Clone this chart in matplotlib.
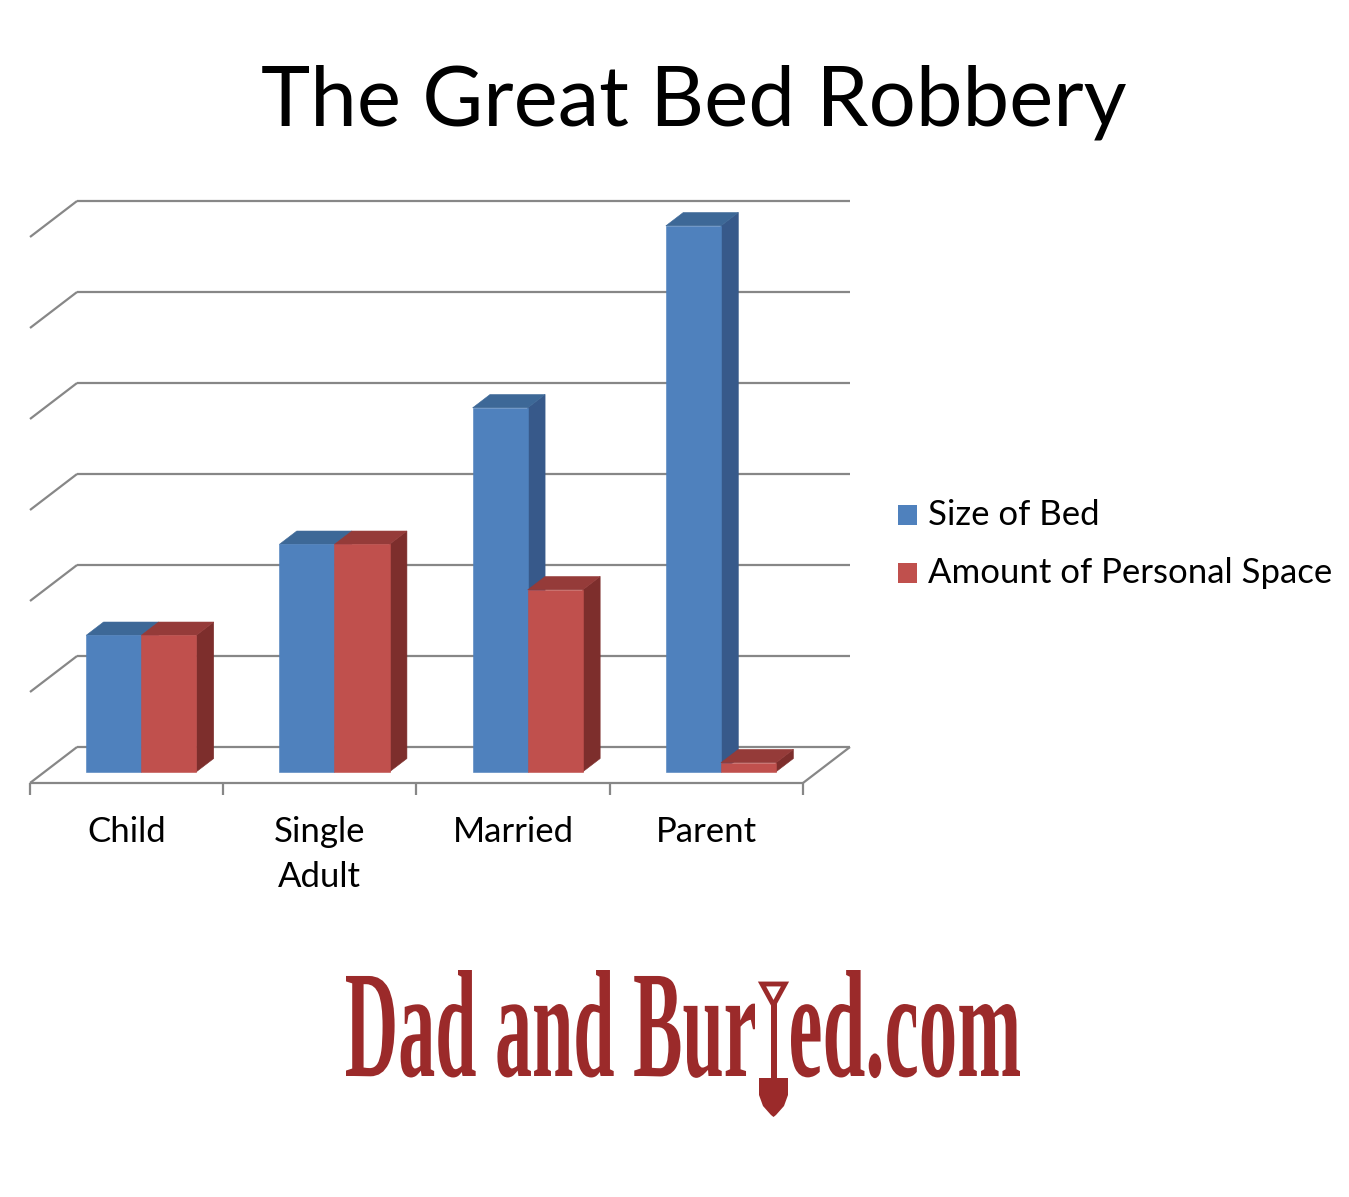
import matplotlib
matplotlib.use("Agg")
import matplotlib.pyplot as plt
from matplotlib.patches import Polygon, PathPatch, Rectangle
from matplotlib.textpath import TextPath
from matplotlib.font_manager import FontProperties
from matplotlib.transforms import Affine2D

plt.rcParams['font.family'] = ['Lato', 'DejaVu Sans']

# chart data
categories = ["Child", "Single\nAdult", "Married", "Parent"]
series = ["Size of Bed", "Amount of Personal Space"]
size_of_bed = [1.5, 2.5, 4.0, 6.0]
personal_space = [1.5, 2.5, 2.0, 0.1]
y_ticks = [0, 1, 2, 3, 4, 5, 6]

front_colors = ["#4f81bd", "#c0504d"]
top_colors = ["#3d6897", "#953b39"]
side_colors = ["#37598a", "#7d2e2c"]
grid_color = "#878787"
logo_color = "#9b2a2a"

# oblique 3d look: depth 1 moves a point DX right and DY up (data units)
DX, DY = 0.2435, 0.3956
BAR_W = 0.285
D0, D1 = 0.31, 0.68


def proj(x, v, d):
    return (x + d * DX, v + d * DY)


W, H = 1349, 1197
fig = plt.figure(figsize=(W / 100, H / 100), dpi=100)
fig.patch.set_facecolor("white")

n = len(categories)
top = max(y_ticks)
ax = fig.add_axes([30 / W, (H - 783) / H, 820 / W, 582 / H])
ax.set_xlim(0, n + DX)
ax.set_ylim(0, top + DY)
ax.axis("off")

line_kw = dict(color=grid_color, lw=1.6, clip_on=False, zorder=1,
               solid_capstyle="butt")

# back wall gridlines and left wall diagonals
for v in y_ticks:
    ax.plot([DX, n + DX], [v + DY, v + DY], **line_kw)
    ax.plot([0, DX], [v, v + DY], **line_kw)

# floor front edge, right edge and category ticks
ax.plot([0, n], [0, 0], **line_kw)
ax.plot([n, n + DX], [0, DY], **line_kw)
for i in range(n + 1):
    ax.plot([i, i], [0, -0.13], **line_kw)

# bars: side, top and front face of each box
for i in range(n):
    for j, vals in enumerate([size_of_bed, personal_space]):
        v = vals[i]
        x0 = i + 0.5 - BAR_W + j * BAR_W
        x1 = x0 + BAR_W
        z = 3 + i * 4 + j * 2
        side = [proj(x1, 0, D0), proj(x1, 0, D1), proj(x1, v, D1), proj(x1, v, D0)]
        lid = [proj(x0, v, D0), proj(x1, v, D0), proj(x1, v, D1), proj(x0, v, D1)]
        face = [proj(x0, 0, D0), proj(x1, 0, D0), proj(x1, v, D0), proj(x0, v, D0)]
        for pts, col in [(side, side_colors[j]), (lid, top_colors[j]),
                         (face, front_colors[j])]:
            ax.add_patch(Polygon(pts, closed=True, fc=col, ec=col, lw=0.4,
                                 zorder=z, clip_on=False))

for i, name in enumerate(categories):
    ax.text(i + 0.5, -0.36, name, ha="center", va="top", fontsize=25,
            linespacing=1.5, clip_on=False)

# legend
for k, name in enumerate(series):
    yc = 515 + k * 58
    fig.patches.append(Rectangle((898 / W, 1 - (yc + 10) / H), 19 / W, 20 / H,
                                 transform=fig.transFigure, fc=front_colors[k],
                                 ec="none"))
    fig.text(928 / W, 1 - yc / H, name, ha="left", va="center", fontsize=25)

fig.text(694 / W, 1 - 102 / H, "The Great Bed Robbery", ha="center",
         va="center", fontsize=60)

# site logo along the bottom
lax = fig.add_axes([0, 0, 1, 1])
lax.set_xlim(0, W)
lax.set_ylim(H, 0)
lax.axis("off")

prop = FontProperties(family="Liberation Serif", weight="bold")
tp1 = TextPath((0, 0), "Dad and Bur", size=100, prop=prop)
tp2 = TextPath((0, 0), "ed.com", size=100, prop=prop)
sy = (1076 - 970) / tp1.get_extents().y1
for tp, x_start, width in [(tp1, 346, 409), (tp2, 791, 229)]:
    ext = tp.get_extents()
    sx = width / ext.width
    tr = Affine2D().translate(-ext.x0, 0).scale(sx, -sy).translate(x_start, 1076)
    lax.add_patch(PathPatch(tr.transform_path(tp), fc=logo_color, ec="none"))

# shovel standing in for the "i"
lax.add_patch(Polygon([(762, 984), (785, 984), (773.5, 1005)], closed=True,
                      fill=False, ec=logo_color, lw=3.5))
lax.add_patch(Rectangle((770.5, 1003), 6, 76, fc=logo_color, ec="none"))
lax.add_patch(Polygon([(759, 1078), (788, 1078), (788, 1095), (784, 1106),
                       (776, 1115), (773.5, 1117), (771, 1115), (763, 1106),
                       (759, 1095)], closed=True, fc=logo_color, ec="none"))

fig.savefig("out.png", dpi=100, facecolor="white")
